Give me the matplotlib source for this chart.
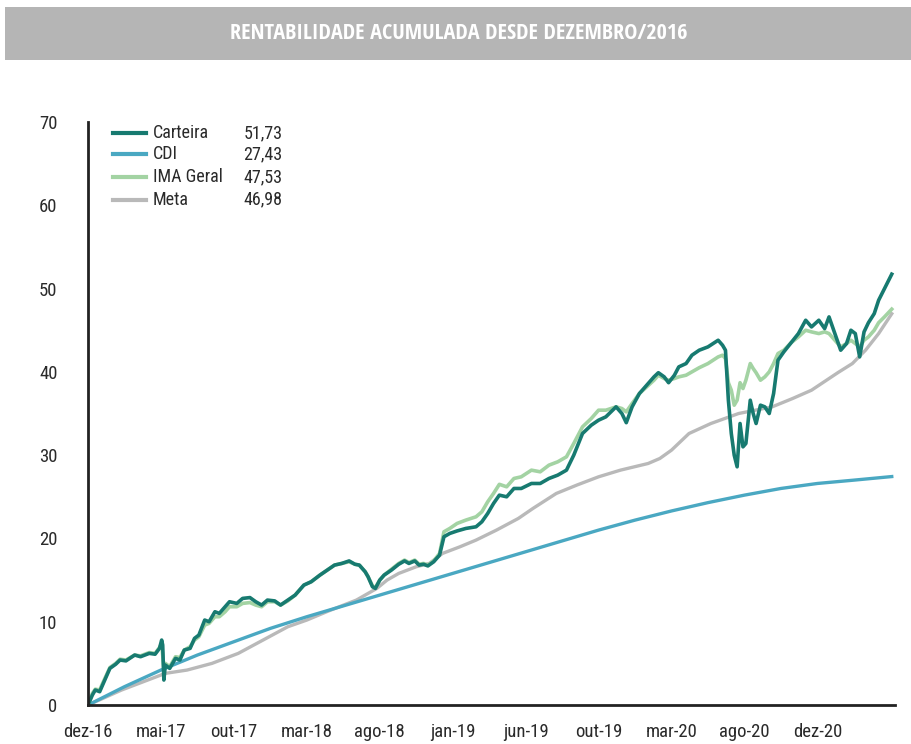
import matplotlib
matplotlib.use("Agg")
import matplotlib.pyplot as plt

# x = meses desde dez-16 (escala do eixo: 5 unidades por rótulo)
carteira_x = [0, 0.3, 0.5, 0.8, 1.0, 1.5, 1.9, 2.2, 2.6, 3.2, 3.6, 4.2, 4.6, 4.9, 5.05, 5.12, 5.2, 5.3,
              5.6, 6.0, 6.3, 6.6, 7.0, 7.3, 7.6, 8.0, 8.3, 8.7, 9.0, 9.4, 9.7, 10.2, 10.6, 11.1, 11.5,
              11.9, 12.3, 12.8, 13.2, 13.7, 14.2, 14.8, 15.3, 15.9, 16.4, 16.9, 17.4, 17.9, 18.3, 18.6,
              19.0, 19.2, 19.5, 19.7, 20.0, 20.3, 20.8, 21.3, 21.7, 22.0, 22.4, 22.7, 23.0, 23.3, 23.7,
              24.1, 24.4, 24.8, 25.3, 25.9, 26.6, 27.0, 27.4, 27.8, 28.2, 28.7, 29.2, 29.7, 30.4, 31.0,
              31.6, 32.2, 32.8, 33.3, 33.9, 34.5, 35.0, 35.5, 36.2, 36.6, 36.9, 37.3, 37.8, 38.3, 38.8,
              39.1, 39.5, 39.8, 40.2, 40.5, 41.0, 41.4, 41.9, 42.5, 43.2, 43.5, 43.7, 43.9, 44.1, 44.3,
              44.5, 44.7, 44.9, 45.1, 45.4, 45.6, 45.8, 46.1, 46.4, 46.7, 47.0, 47.3, 47.7, 48.2, 48.7,
              49.2, 49.6, 50.1, 50.5, 50.8, 51.2, 51.6, 52.0, 52.3, 52.6, 52.9, 53.2, 53.5, 53.9, 54.2,
              54.6, 55.1]
carteira = [0, 1.2, 1.8, 1.6, 2.4, 4.4, 4.9, 5.4, 5.3, 6.0, 5.8, 6.2, 6.1, 6.8, 7.8, 7.2, 3.0, 4.8,
            4.4, 5.6, 5.4, 6.6, 6.8, 8.0, 8.4, 10.2, 10.0, 11.2, 11.0, 11.8, 12.4, 12.2, 12.8, 12.9, 12.4,
            12.0, 12.6, 12.5, 12.0, 12.6, 13.2, 14.4, 14.8, 15.6, 16.2, 16.8, 17.0, 17.3, 16.9, 16.8,
            16.0, 15.4, 14.2, 14.0, 15.0, 15.6, 16.2, 16.9, 17.3, 17.0, 17.3, 16.8, 16.9, 16.7, 17.2,
            18.0, 20.2, 20.6, 20.9, 21.2, 21.4, 22.0, 23.0, 24.2, 25.2, 25.0, 26.0, 26.0, 26.6, 26.6,
            27.2, 27.6, 28.2, 30.0, 32.6, 33.6, 34.2, 34.6, 35.8, 35.0, 33.9, 35.8, 37.4, 38.4, 39.4,
            39.9, 39.4, 38.7, 39.6, 40.6, 41.0, 42.0, 42.6, 43.0, 43.8, 43.2, 42.6, 36.6, 32.6, 30.0,
            28.6, 33.8, 31.0, 31.4, 36.6, 35.0, 33.8, 36.0, 35.8, 35.0, 37.4, 41.4, 42.4, 43.5, 44.6,
            46.2, 45.4, 46.2, 45.2, 46.6, 44.6, 42.6, 43.4, 45.0, 44.6, 41.8, 44.8, 45.9, 47.0, 48.6,
            50.0, 51.73]

ima_x = carteira_x
ima = [0, 1.4, 1.9, 1.8, 2.6, 4.5, 5.0, 5.5, 5.4, 6.0, 5.9, 6.3, 6.2, 6.9, 7.4, 6.0, 4.2, 5.0,
       4.6, 5.8, 5.7, 6.6, 7.0, 7.8, 8.2, 9.6, 9.8, 10.6, 10.6, 11.2, 11.8, 11.8, 12.2, 12.3, 12.0,
       11.8, 12.4, 12.4, 12.0, 12.5, 13.2, 14.4, 14.8, 15.6, 16.2, 16.8, 17.0, 17.2, 16.9, 16.8,
       16.0, 15.4, 14.3, 14.1, 15.0, 15.6, 16.3, 17.0, 17.4, 17.1, 17.4, 16.9, 17.0, 16.8, 17.3,
       18.2, 20.8, 21.2, 21.8, 22.2, 22.6, 23.2, 24.4, 25.4, 26.5, 26.2, 27.2, 27.4, 28.2, 28.0,
       28.8, 29.2, 29.8, 31.4, 33.4, 34.4, 35.4, 35.4, 35.8, 35.6, 35.2, 36.2, 37.4, 38.2, 39.0,
       39.6, 39.2, 39.0, 39.2, 39.4, 39.6, 40.0, 40.5, 41.0, 41.8, 42.0, 41.6, 38.7, 37.8, 36.0,
       36.6, 38.7, 38.0, 39.0, 41.0, 40.4, 39.9, 39.0, 39.4, 40.0, 41.0, 42.2, 42.6, 43.5, 44.2,
       45.0, 44.8, 44.6, 44.8, 44.6, 43.8, 43.0, 43.4, 43.8, 43.4, 43.0, 43.8, 44.2, 45.0, 45.9,
       46.6, 47.53]

cdi_x = [0, 2.5, 5, 7.5, 10, 12.5, 15, 17.5, 20, 22.5, 25, 27.5, 30, 32.5, 35, 37.5, 40, 42.5,
         45, 47.5, 50, 52.5, 55.1]
cdi = [0, 2.2, 4.2, 6.0, 7.6, 9.2, 10.6, 11.9, 13.2, 14.5, 15.8, 17.1, 18.4, 19.7, 21.0, 22.2,
       23.3, 24.3, 25.2, 26.0, 26.6, 27.0, 27.43]

meta_x = [0, 2.3, 5.3, 6.8, 8.5, 10.3, 12.0, 13.7, 15.0, 16.5, 18.4, 19.8, 20.5, 21.3, 22.5, 23.4,
          24.3, 25.5, 26.6, 28.0, 29.5, 30.5, 32.1, 33.5, 35.0, 36.5, 38.4, 39.2, 40.0, 41.2, 42.7,
          44.6, 46.9, 48.3, 49.6, 51.4, 52.4, 53.3, 54.2, 55.1]
meta = [0, 1.8, 3.8, 4.2, 5.0, 6.2, 7.8, 9.4, 10.2, 11.3, 12.6, 14.0, 15.0, 15.8, 16.6, 17.0,
        18.2, 19.0, 19.8, 21.0, 22.4, 23.6, 25.4, 26.4, 27.4, 28.2, 29.0, 29.6, 30.6, 32.6, 33.8,
        35.0, 35.8, 36.8, 37.8, 39.9, 41.0, 42.6, 44.6, 46.98]

tick_labels = ["dez-16", "mai-17", "out-17", "mar-18", "ago-18", "jan-19", "jun-19",
               "out-19", "mar-20", "ago-20", "dez-20"]
tick_pos = [0, 5, 10, 15, 20, 25, 30, 35, 40, 45, 50]

series = ["Carteira", "CDI", "IMA Geral", "Meta"]
final_values = ["51,73", "27,43", "47,53", "46,98"]
colors = ["#177a70", "#4aa8c2", "#a3d3a3", "#b9b9b9"]

plt.rcParams["font.family"] = ["Roboto Condensed", "DejaVu Sans"]

fig = plt.figure(figsize=(9.12, 7.44), dpi=100)

# faixa do título
fig.patches.append(plt.Rectangle((0.006, 0.919), 0.994, 0.071, transform=fig.transFigure,
                                 facecolor="#b5b5b5", edgecolor="none"))
fig.text(0.503, 0.955, "RENTABILIDADE ACUMULADA DESDE DEZEMBRO/2016", color="white",
         fontsize=16, fontweight="bold", ha="center", va="center",
         family=["Open Sans Condensed", "DejaVu Sans"])

ax = fig.add_axes([0.0965, 0.0524, 0.8845, 0.7836])
ax.plot(meta_x, meta, color=colors[3], lw=2.4)
ax.plot(cdi_x, cdi, color=colors[1], lw=2.4)
ax.plot(ima_x, ima, color=colors[2], lw=2.6)
ax.plot(carteira_x, carteira, color=colors[0], lw=2.6)

ax.set_xlim(0, 55.3)
ax.set_ylim(0, 70)
ax.set_yticks(range(0, 71, 10))
ax.set_xticks(tick_pos)
ax.set_xticklabels(tick_labels)
ax.tick_params(length=0, labelsize=13.5, colors="#2a2a2a")
ax.tick_params(axis="y", pad=22)
ax.tick_params(axis="x", pad=13)
for s in ["top", "right"]:
    ax.spines[s].set_visible(False)
for s in ["left", "bottom"]:
    ax.spines[s].set_linewidth(2)
    ax.spines[s].set_color("#222222")

# legenda com valores
rows_y = [0.981, 0.945, 0.905, 0.867]
for name, val, c, y in zip(series, final_values, colors, rows_y):
    ax.plot([0.031, 0.072], [y, y], color=c, lw=3, transform=ax.transAxes, clip_on=False)
    ax.text(0.080, y, name, transform=ax.transAxes, fontsize=13, va="center", color="#2a2a2a")
    ax.text(0.241, y, val, transform=ax.transAxes, fontsize=13, va="center", ha="right",
            color="#2a2a2a")

fig.savefig("out.png", dpi=100)
